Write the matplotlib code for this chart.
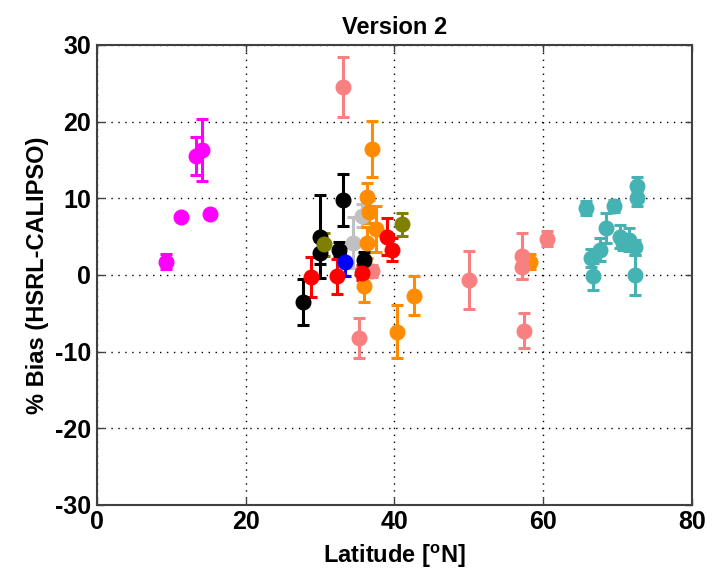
import matplotlib.pyplot as plt

plt.rcParams['font.family'] = ['Liberation Sans Narrow', 'Liberation Sans', 'DejaVu Sans']
plt.rcParams['font.weight'] = 'bold'
plt.rcParams['axes.unicode_minus'] = False

# groups of campaigns: latitude, % bias, error
gray_lat = [34.4, 35.7]
gray_bias = [4.2, 7.7]
gray_err = [3.3, 1.5]

orange_lat = [36.3, 36.6, 37.0, 36.3, 37.5, 35.9, 40.3, 42.6, 58.3]
orange_bias = [10.2, 8.2, 16.4, 4.2, 6.0, -1.5, -7.4, -2.7, 1.7]
orange_err = [1.8, 1.5, 3.7, 2.0, 3.0, 2.0, 3.5, 2.5, 1.0]

pink_lat = [33.1, 35.3, 50.0, 57.2, 57.2, 57.4, 60.5, 37.0]
pink_bias = [24.5, -8.2, -0.7, 2.5, 1.0, -7.3, 4.7, 0.5]
pink_err = [3.9, 2.6, 3.8, 3.0, 1.5, 2.3, 1.0, 0.8]

black_lat = [27.7, 30.0, 30.0, 33.1, 32.5, 35.9]
black_bias = [-3.5, 5.0, 2.9, 9.8, 3.3, 2.0]
black_err = [3.0, 5.4, 1.5, 3.4, 1.0, 1.0]

olive_lat = [30.6, 41.0]
olive_bias = [4.0, 6.6]
olive_err = [1.5, 1.5]

blue_lat = [33.3]
blue_bias = [1.7]
blue_err = [1.9]

red_lat = [28.8, 32.3, 35.7, 39.0, 39.7]
red_bias = [-0.3, -0.2, 0.3, 5.0, 3.3]
red_err = [2.6, 2.3, 1.0, 2.4, 1.5]

magenta_lat = [9.3, 11.3, 15.2, 13.4, 14.2]
magenta_bias = [1.7, 7.6, 7.9, 15.5, 16.3]
magenta_err = [1.0, 0.0, 0.0, 2.5, 4.0]

teal_lat = [65.7, 66.5, 66.7, 67.7, 68.4, 69.5, 70.3, 70.8, 71.6, 72.3, 72.3, 72.6, 72.6]
teal_bias = [8.7, 2.2, -0.2, 3.3, 6.1, 9.0, 5.0, 4.2, 4.6, 3.6, 0.0, 11.6, 10.0]
teal_err = [0.9, 1.2, 1.8, 1.5, 2.0, 0.8, 1.5, 1.0, 1.5, 1.0, 2.6, 1.2, 1.0]

groups = [
    (gray_lat, gray_bias, gray_err, '#C0C0C0'),
    (orange_lat, orange_bias, orange_err, '#FF8C00'),
    (pink_lat, pink_bias, pink_err, '#F88080'),
    (black_lat, black_bias, black_err, 'black'),
    (olive_lat, olive_bias, olive_err, '#808000'),
    (blue_lat, blue_bias, blue_err, '#0000FF'),
    (red_lat, red_bias, red_err, '#FF0000'),
    (magenta_lat, magenta_bias, magenta_err, '#FF00FF'),
    (teal_lat, teal_bias, teal_err, '#45B3B3'),
]

fig = plt.figure(figsize=(7.17, 5.75), dpi=100)
ax = fig.add_axes([0.135, 0.122, 0.830, 0.800])

for lat, bias, err, col in groups:
    ax.errorbar(lat, bias, yerr=err, fmt='o', color=col, ecolor=col,
                markersize=10.5, markeredgecolor=col, elinewidth=2.2,
                capsize=4.5, capthick=2.2)

ax.set_xlim(0, 80)
ax.set_ylim(-30, 30)
ax.set_xticks([0, 20, 40, 60, 80])
ax.set_yticks([-30, -20, -10, 0, 10, 20, 30])
ax.grid(True, linestyle=(0, (1, 4)), color='black', linewidth=1)
ax.tick_params(direction='in', length=5, width=1, labelsize=18, colors='#404040',
               labelcolor='black', top=True, right=True, pad=4)
for s in ax.spines.values():
    s.set_linewidth(1.5)
    s.set_color('#404040')

ax.set_title('Version 2', fontsize=17, fontweight='bold', pad=8)
ax.set_xlabel('Latitude [$\\mathregular{^o}$N]', fontsize=17, fontweight='bold', labelpad=6)
ax.set_ylabel('% Bias (HSRL-CALIPSO)', fontsize=17, fontweight='bold', labelpad=4)

fig.savefig('out.png', dpi=100)
